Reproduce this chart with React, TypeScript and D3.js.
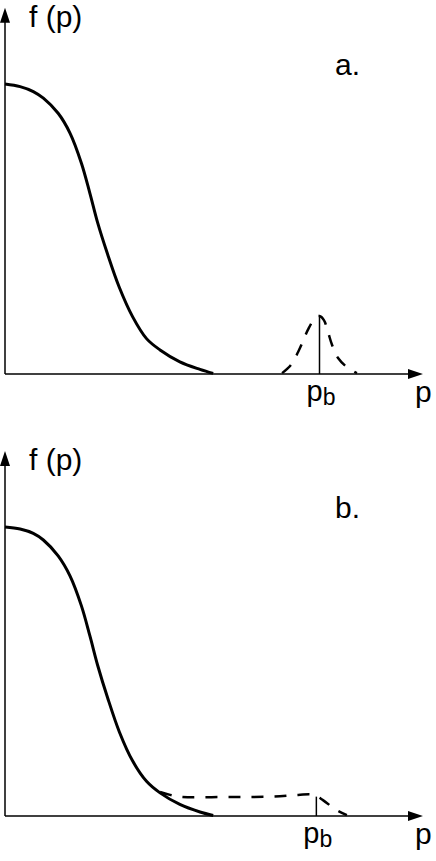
import React from "react";
import * as d3 from "d3";

const W = 436;
const H = 861;

// Main distribution f(p) – panel a  [p, f]
const mainCurveA: [number, number][] = [
  [0.0, 1.0], [0.048, 0.991], [0.09, 0.974], [0.122, 0.951], [0.169, 0.899],
  [0.207, 0.83], [0.243, 0.727], [0.27, 0.623], [0.295, 0.52], [0.325, 0.417],
  [0.363, 0.3], [0.406, 0.197], [0.45, 0.122], [0.493, 0.083], [0.556, 0.042],
  [0.62, 0.016], [0.662, 0.002],
];
// Beam peak – panel a (dashed)
const beamA: [number, number][] = [
  [0.881, 0.003], [0.909, 0.031], [0.932, 0.076], [0.948, 0.114], [0.963, 0.152],
  [0.986, 0.193], [1.0, 0.2], [1.014, 0.186], [1.027, 0.145], [1.04, 0.1],
  [1.059, 0.055], [1.087, 0.024], [1.119, 0.003],
];
// Main distribution f(p) – panel b
const mainCurveB: [number, number][] = [
  [0.0, 1.0], [0.048, 0.993], [0.09, 0.978], [0.122, 0.955], [0.169, 0.9],
  [0.207, 0.83], [0.243, 0.727], [0.27, 0.623], [0.295, 0.52], [0.326, 0.41],
  [0.364, 0.29], [0.406, 0.19], [0.45, 0.12], [0.493, 0.08], [0.556, 0.04],
  [0.62, 0.014], [0.662, 0.002],
];
// Plateau after relaxation – panel b (dashed)
const beamB: [number, number][] = [
  [0.493, 0.083], [0.525, 0.073], [0.563, 0.066], [0.715, 0.066], [0.852, 0.067],
  [0.932, 0.073], [0.979, 0.074], [1.011, 0.055], [1.049, 0.024], [1.087, 0.003],
];

const pBeam = [1.0, 0.99]; // p_b marker position, panels a and b
const pBeamHeight = [0.2, 0.067];
const panelLabels = ["a.", "b."];
const axisMax = { p: 1.329, f: 1.263 };

function Panel({ yAxis, yTop, main, beam, pb, pbH, label }: any) {
  const x = d3.scaleLinear().domain([0, 1]).range([5, 319.5]);
  const y = d3.scaleLinear().domain([0, 1]).range([yAxis, yTop]);
  const line = d3
    .line<[number, number]>()
    .x((d) => x(d[0]))
    .y((d) => y(d[1]))
    .curve(d3.curveCatmullRom.alpha(0.5));
  const x0 = x(0);
  const y0 = y(0);
  const xEnd = x(axisMax.p);
  const yEnd = y(axisMax.f);
  const font = "'Liberation Sans', Arial, Helvetica, sans-serif";
  return (
    <g>
      {/* axes */}
      <line x1={x0} y1={y0} x2={x0} y2={yEnd + 12} stroke="#000" strokeWidth={1.5} />
      <line x1={x0} y1={y0} x2={xEnd - 12} y2={y0} stroke="#000" strokeWidth={1.5} />
      <path d={`M${x0},${yEnd} L${x0 - 5},${yEnd + 15} L${x0 + 5},${yEnd + 15} Z`} fill="#000" />
      <path d={`M${xEnd},${y0} L${xEnd - 15},${y0 - 5} L${xEnd - 15},${y0 + 5} Z`} fill="#000" />
      {/* curves */}
      <path d={line(main) || ""} fill="none" stroke="#000" strokeWidth={3} />
      <path d={line(beam) || ""} fill="none" stroke="#000" strokeWidth={2.5} strokeDasharray="12,11" />
      <line x1={x(pb)} y1={y0} x2={x(pb)} y2={y(pbH)} stroke="#000" strokeWidth={1.5} />
      {/* labels */}
      <text x={x0 + 24} y={yEnd + 19} fontFamily={font} fontSize={30}>f (p)</text>
      <text x={x0 + 330} y={yEnd + 67} fontFamily={font} fontSize={30}>{label}</text>
      <text x={x(pb) - 13} y={y0 + 27} fontFamily={font} fontSize={29}>
        p<tspan fontSize={23} dy={4}>b</tspan>
      </text>
      <text x={xEnd - 8} y={y0 + 28} fontFamily={font} fontSize={30}>p</text>
    </g>
  );
}

export default function App() {
  return (
    <svg
      width={W}
      height={H}
      viewBox={`0 0 ${W} ${H}`}
      style={{ position: "absolute", left: 0, top: 0, background: "#fff" }}
    >
      <rect width={W} height={H} fill="#fff" />
      <Panel yAxis={374} yTop={84} main={mainCurveA} beam={beamA} pb={pBeam[0]} pbH={pBeamHeight[0]} label={panelLabels[0]} />
      <Panel yAxis={816} yTop={527} main={mainCurveB} beam={beamB} pb={pBeam[1]} pbH={pBeamHeight[1]} label={panelLabels[1]} />
    </svg>
  );
}
